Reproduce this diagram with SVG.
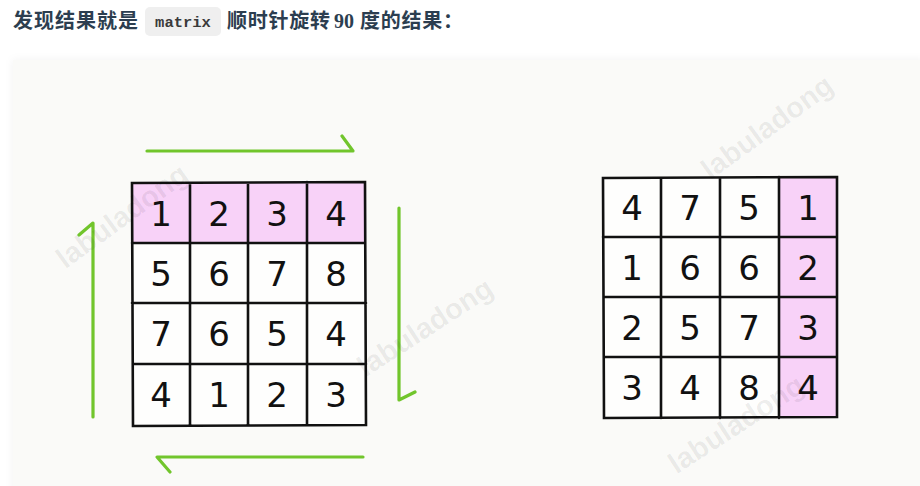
<svg xmlns="http://www.w3.org/2000/svg" width="920" height="486" viewBox="0 0 920 486">
<defs>
<filter id="sh" x="-5%" y="-5%" width="110%" height="110%"><feGaussianBlur stdDeviation="4"/></filter>
<style>
.hd{font-family:"Noto Sans CJK SC","Noto Sans",sans-serif;font-weight:700;font-size:20px;fill:#2c3e50}
.code{font-family:"Liberation Mono","DejaVu Sans Mono",monospace;font-size:15.5px;fill:#3a3a3a;font-weight:700}
.num{font-family:"DejaVu Sans","Liberation Sans",sans-serif;font-size:34px;fill:#111;text-anchor:middle}
.wm{font-family:"Liberation Sans","DejaVu Sans",sans-serif;font-weight:700;font-size:29px;fill:#000;fill-opacity:0.07;text-anchor:middle}
.grid{fill:none;stroke:#111;stroke-width:2.6;stroke-linecap:round}
.pink{fill:#f8d2f8}
.cell{fill:#fefefd}
.arr{fill:none;stroke:#71c52c;stroke-width:3.2;stroke-linecap:round;stroke-linejoin:round}
</style>
</defs>
<rect width="920" height="486" fill="#ffffff"/>
<g id="header">
<text class="hd" x="13" y="28" textLength="125" lengthAdjust="spacing">发现结果就是</text>
<rect x="145" y="7" width="76" height="29" rx="5" fill="#efefef"/>
<text class="code" x="183" y="27" text-anchor="middle">matrix</text>
<text class="hd" x="227" y="28" textLength="103" lengthAdjust="spacing">顺时针旋转</text>
<text class="hd" x="334" y="28" style="font-family:'Liberation Serif',serif">90</text>
<text class="hd" x="360" y="28" textLength="103" lengthAdjust="spacing">度的结果：</text>
</g>
<rect x="13" y="60" width="912" height="440" fill="#000" fill-opacity="0.05" filter="url(#sh)"/>
<rect x="13" y="60" width="912" height="440" fill="#fafaf8"/>
<g id="matrix-left">
<rect class="cell" x="132" y="183" width="233" height="242"/>
<rect class="pink" x="132" y="183" width="233" height="60"/>
<path class="grid" d="M132 183 L365 182 L366 425 L133 426 Z M190 183 V426 M248 183 V425 M307 182 V425 M132 243 H365 M132 303 H366 M133 364 H366"/>
<g>
<text class="num" x="161" y="226">1</text><text class="num" x="219" y="226">2</text><text class="num" x="277" y="226">3</text><text class="num" x="336" y="226">4</text>
<text class="num" x="161" y="286">5</text><text class="num" x="219" y="286">6</text><text class="num" x="277" y="286">7</text><text class="num" x="336" y="286">8</text>
<text class="num" x="161" y="346">7</text><text class="num" x="219" y="346">6</text><text class="num" x="277" y="346">5</text><text class="num" x="336" y="346">4</text>
<text class="num" x="161" y="407">4</text><text class="num" x="219" y="407">1</text><text class="num" x="277" y="407">2</text><text class="num" x="336" y="407">3</text>
</g>
</g>
<g id="matrix-right">
<rect class="cell" x="603" y="177" width="234" height="241"/>
<rect class="pink" x="779" y="177" width="58" height="241"/>
<path class="grid" d="M603 178 L837 177 L837 417 L604 418 Z M661 178 V418 M720 178 V418 M779 177 V418 M603 237 H837 M604 297 H837 M604 357 H837"/>
<g>
<text class="num" x="632" y="220">4</text><text class="num" x="690" y="220">7</text><text class="num" x="749" y="220">5</text><text class="num" x="808" y="220">1</text>
<text class="num" x="632" y="280">1</text><text class="num" x="690" y="280">6</text><text class="num" x="749" y="280">6</text><text class="num" x="808" y="280">2</text>
<text class="num" x="632" y="340">2</text><text class="num" x="690" y="340">5</text><text class="num" x="749" y="340">7</text><text class="num" x="808" y="340">3</text>
<text class="num" x="632" y="400">3</text><text class="num" x="690" y="400">4</text><text class="num" x="749" y="400">8</text><text class="num" x="808" y="400">4</text>
</g>
</g>
<g id="connectors">
<path class="arr" d="M147 151 H353 L342 136"/>
<path class="arr" d="M399 208 V400 L415 392"/>
<path class="arr" d="M363 457 H157 L170 472"/>
<path class="arr" d="M93 417 V223 L79 235"/>
</g>
<g id="watermarks">
<text class="wm" transform="rotate(-36 122 216)" x="122" y="226">labuladong</text>
<text class="wm" transform="rotate(-33 425 327)" x="425" y="337">labuladong</text>
<text class="wm" transform="rotate(-36 767 127)" x="767" y="137">labuladong</text>
<text class="wm" transform="rotate(-33 736 424)" x="736" y="434">labuladong</text>
</g>
</svg>
